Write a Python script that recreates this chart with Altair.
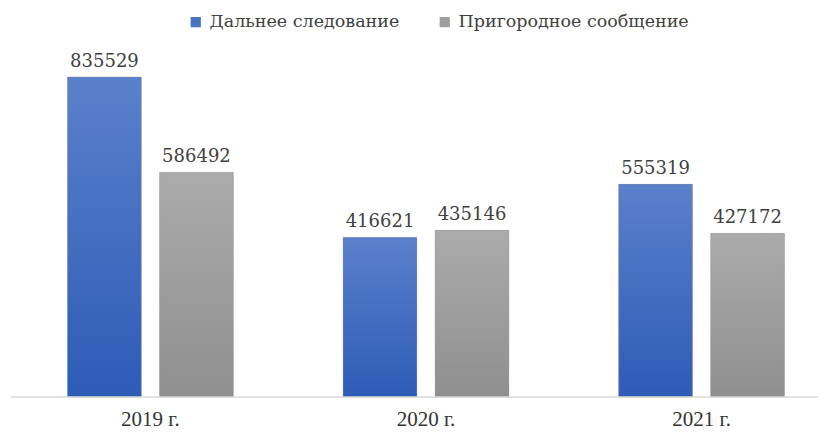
import altair as alt
import pandas as pd

years = ["2019 г.", "2020 г.", "2021 г."]
series = ["Дальнее следование", "Пригородное сообщение"]
long_distance = [835529, 416621, 555319]
suburban = [586492, 435146, 427172]

rows = []
for i, y in enumerate(years):
    rows.append({"year": y, "series": series[0], "value": long_distance[i]})
    rows.append({"year": y, "series": series[1], "value": suburban[i]})
df = pd.DataFrame(rows)

FONT = "'Liberation Serif', 'Times New Roman', 'DejaVu Serif', serif"

grad_blue = {"gradient": "linear", "x1": 0, "y1": 0, "x2": 0, "y2": 1,
             "stops": [{"offset": 0, "color": "#5B80CB"}, {"offset": 1, "color": "#2D5BB6"}]}
grad_gray = {"gradient": "linear", "x1": 0, "y1": 0, "x2": 0, "y2": 1,
             "stops": [{"offset": 0, "color": "#ABABAB"}, {"offset": 1, "color": "#8F8F8F"}]}

base = alt.Chart(df).encode(
    x=alt.X("year:N", sort=years,
            scale=alt.Scale(paddingInner=0.3, paddingOuter=0),
            axis=alt.Axis(title=None, labelAngle=0, domain=False, ticks=False,
                          labelFont=FONT, labelFontSize=21, labelColor="#333333",
                          labelPadding=11)),
    xOffset=alt.XOffset("series:N", sort=series,
                        scale=alt.Scale(domain=series, paddingInner=0.2, paddingOuter=0.148)),
    y=alt.Y("value:Q", scale=alt.Scale(domain=[0, 880000]), axis=None),
)

legend_bars = base.mark_bar().encode(
    color=alt.Color("series:N", sort=series,
                    scale=alt.Scale(domain=series, range=["#4A72C4", "#9E9E9E"]),
                    legend=alt.Legend(orient="none", legendX=133, legendY=-47,
                                      direction="horizontal", title=None,
                                      symbolType="square", symbolSize=105,
                                      symbolStrokeWidth=0, labelLimit=0,
                                      labelFont="DejaVu Serif", labelFontSize=17.5,
                                      labelColor="#404040", columnPadding=36,
                                      labelOffset=5))
)

grad_bars = base.mark_bar(stroke="#8a8a8a", strokeOpacity=0.35, strokeWidth=1).encode(
    color=alt.condition(alt.datum.series == series[0], alt.value(grad_blue), alt.value(grad_gray))
)

labels = base.mark_text(baseline="bottom", dy=-6, color="#404040",
                        font="DejaVu Serif", fontSize=18).encode(
    text=alt.Text("value:Q", format="d"),
)

baseline = alt.Chart(pd.DataFrame({"a": [0]})).mark_rule(color="#D9D9D9", strokeWidth=1.5).encode(
    x=alt.value(-43), x2=alt.value(772), y=alt.value(337)
)

chart = alt.layer(legend_bars, grad_bars, labels, baseline).properties(
    width=744, height=337,
    autosize=alt.AutoSizeParams(type="none"),
    padding={"left": 46, "top": 52, "right": 20, "bottom": 40},
).configure_view(stroke=None)

chart.save("out.html", embed_options={"renderer": "svg", "actions": False})
